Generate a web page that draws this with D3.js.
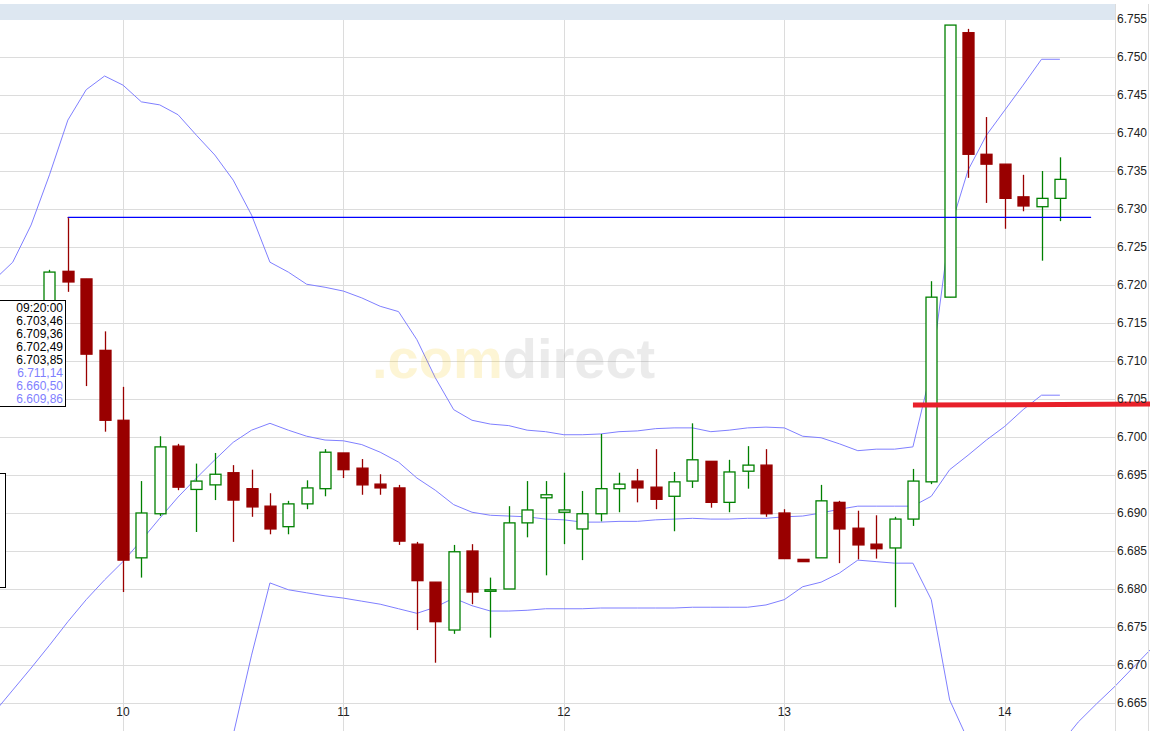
<!DOCTYPE html>
<html><head><meta charset="utf-8">
<script src="https://cdn.jsdelivr.net/npm/d3@7"></script>
<style>body{margin:0;background:#fff}svg{display:block}</style>
</head><body><svg id="c" width="1150" height="731"></svg>
<script>
// candles: index, open, high, low, close
const candleIdx = d3.range(-4, 52);
const opens  = [6.7178,6.7218,6.7208,6.7114,6.7022,6.6841,6.6899,6.6988,6.6931,6.6937,6.6953,6.6932,6.6909,6.6882,6.6912,6.6932,6.6979,6.6959,6.6938,6.6933,6.6859,6.6809,6.6746,6.6850,6.6797,6.6800,6.6887,6.6920,6.6901,6.6879,6.6899,6.6932,6.6942,6.6934,6.6922,6.6942,6.6968,6.6914,6.6955,6.6963,6.6900,6.6839,6.6841,6.6914,6.6880,6.6859,6.6854,6.6892,6.6941,6.7184,6.7532,6.7372,6.7359,6.7316,6.7303,6.7314];
const highs  = [6.7220,6.7288,6.7208,6.7139,6.7066,6.6942,6.7001,6.6991,6.6965,6.6979,6.6963,6.6957,6.6926,6.6916,6.6943,6.6984,6.6979,6.6971,6.6951,6.6937,6.6862,6.6809,6.6858,6.6859,6.6815,6.6909,6.6942,6.6942,6.6953,6.6929,6.7004,6.6953,6.6958,6.6984,6.6954,6.7018,6.6968,6.6970,6.6988,6.6984,6.6905,6.6839,6.6937,6.6916,6.6903,6.6897,6.6895,6.6958,6.7205,6.7542,6.7537,6.7421,6.7359,6.7345,6.7350,6.7368];
const lows   = [6.7175,6.7191,6.7067,6.7007,6.6796,6.6815,6.6896,6.6930,6.6875,6.6917,6.6862,6.6895,6.6872,6.6872,6.6905,6.6922,6.6946,6.6924,6.6924,6.6858,6.6746,6.6703,6.6741,6.6780,6.6736,6.6800,6.6868,6.6818,6.6859,6.6838,6.6889,6.6901,6.6914,6.6905,6.6876,6.6933,6.6907,6.6901,6.6932,6.6895,6.6840,6.6836,6.6841,6.6834,6.6839,6.6840,6.6776,6.6883,6.6938,6.7184,6.7341,6.7308,6.7274,6.7297,6.7232,6.7284];
const closes = [6.7217,6.7204,6.7109,6.7022,6.6838,6.6900,6.6987,6.6934,6.6942,6.6951,6.6917,6.6908,6.6879,6.6912,6.6933,6.6980,6.6957,6.6937,6.6933,6.6863,6.6811,6.6757,6.6849,6.6796,6.6799,6.6887,6.6904,6.6924,6.6904,6.6899,6.6932,6.6938,6.6933,6.6918,6.6941,6.6970,6.6914,6.6954,6.6963,6.6899,6.6840,6.6836,6.6916,6.6879,6.6858,6.6853,6.6892,6.6942,6.7184,6.7542,6.7372,6.7359,6.7314,6.7304,6.7314,6.7339];
// Bollinger bands
const upperIdx = d3.range(-7, 52);
const upperBand = [6.7207,6.7230,6.7279,6.7345,6.7417,6.7457,6.7475,6.7463,6.7441,6.7437,6.7424,6.7397,6.7371,6.7338,6.7292,6.7230,
 6.7217,6.7201,6.7197,6.7192,6.7183,6.7172,6.7165,6.7128,6.7078,6.7036,6.7022,6.7017,6.7015,6.7009,6.7007,6.7003,6.7003,6.7004,6.7007,6.7008,6.7011,6.7012,6.7012,6.7007,6.7009,6.7012,6.7013,6.7012,6.7001,6.6999,6.6991,6.6982,6.6984,6.6984,6.6987,
 6.7088,6.7272,6.7351,6.7397,6.7430,6.7463,6.7497,6.7497];
const middleIdx = d3.range(-7, 52);
const middleBand = [6.6638,6.6667,6.6696,6.6726,6.6757,6.6786,6.6812,6.6836,6.6864,6.6893,6.6921,6.6946,6.6970,6.6993,6.7009,6.7018,
 6.7009,6.7001,6.6996,6.6995,6.6990,6.6980,6.6967,6.6946,6.6930,6.6911,6.6901,6.6897,6.6896,6.6895,6.6892,6.6891,6.6888,6.6888,6.6889,6.6889,6.6891,6.6892,6.6893,6.6892,6.6892,6.6893,6.6893,6.6895,6.6896,6.6900,6.6905,6.6909,6.6909,6.6909,6.6909,
 6.6922,6.6957,6.6976,6.6996,6.7014,6.7036,6.7055,6.7055];
const lowerIdx = d3.range(5, 57);
const lowerBand = [6.6522,6.6608,6.6713,6.6808,6.6799,6.6795,6.6791,6.6788,6.6784,6.6780,6.6774,6.6768,6.6776,6.6788,6.6778,6.6771,6.6771,6.6772,
 6.6774,6.6774,6.6774,6.6775,6.6775,6.6775,6.6775,6.6775,6.6776,6.6776,6.6776,6.6776,6.6779,6.6786,6.6803,6.6809,6.6821,6.6838,6.6836,6.6834,6.6834,
 6.6786,6.6654,6.6601,6.6575,6.6562,6.6562,6.6568,6.6595,6.6625,6.6649,6.6672,6.6697,6.6722];
const hLineValue = 6.7289, hLineFrom = -3, hLineTo = 52.7;
const redLineValue = 6.7042, redFrom = 43, redTo = 56;
const yTicks = [6.665,6.670,6.675,6.680,6.685,6.690,6.695,6.700,6.705,6.710,6.715,6.720,6.725,6.730,6.735,6.740,6.745,6.750,6.755];
const dayTicks = [0,12,24,36,48], dayLabels = ["10","11","12","13","14"];
const tipLines = ["09:20:00","6.703,46","6.709,36","6.702,49","6.703,85","6.711,14","6.660,50","6.609,86"];

const svg = d3.select("#c");
const W = 1115;
const x = d3.scaleLinear().domain([-6.694, 54.0]).range([0, W]);
const y = d3.scaleLinear().domain([6.665, 6.755]).range([703, 19]);
const fmt = d3.format(".3f");

svg.append("rect").attr("x",0).attr("y",4).attr("width",W).attr("height",16).attr("fill","#dde7f1");
svg.append("clipPath").attr("id","cp").append("rect").attr("x",0).attr("y",20).attr("width",1150).attr("height",711);
const g = svg.append("g").attr("clip-path","url(#cp)");

g.selectAll(".hg").data(yTicks).join("line").attr("x1",0).attr("x2",W)
 .attr("y1",d=>Math.round(y(d))+0.5).attr("y2",d=>Math.round(y(d))+0.5).attr("stroke","#dcdcdc");
g.selectAll(".vg").data(dayTicks).join("line").attr("y1",20).attr("y2",731)
 .attr("x1",d=>Math.round(x(d))+0.5).attr("x2",d=>Math.round(x(d))+0.5).attr("stroke","#dcdcdc");
svg.append("line").attr("x1",W+0.5).attr("x2",W+0.5).attr("y1",4).attr("y2",731).attr("stroke","#dcdcdc");
svg.append("line").attr("x1",1148.5).attr("x2",1148.5).attr("y1",4).attr("y2",731).attr("stroke","#dcdcdc");

// watermark
const wm = svg.append("text").attr("x",372).attr("y",378).attr("font-family","Liberation Sans, Arial").attr("font-weight","bold").attr("font-size",56).attr("opacity",0.16);
wm.append("tspan").attr("fill","#f5c400").text(".com");
wm.append("tspan").attr("fill","#888").text("direct");

// bands
const line = d3.line().x(d=>x(d[0])).y(d=>y(d[1]));
[[upperIdx,upperBand],[middleIdx,middleBand],[lowerIdx,lowerBand]].forEach(([ix,vals])=>{
  g.append("path").attr("d",line(ix.map((d,k)=>[d,vals[k]]))).attr("fill","none").attr("stroke","#7f7fff").attr("stroke-width",1);
});

// candles
const data = candleIdx.map((d,k)=>({i:d,o:opens[k],h:highs[k],l:lows[k],c:closes[k]}));
const bw = 11;
const cg = g.selectAll(".cd").data(data).join("g");
cg.append("line").attr("x1",d=>Math.round(x(d.i))+0.5).attr("x2",d=>Math.round(x(d.i))+0.5)
 .attr("y1",d=>y(d.h)).attr("y2",d=>y(d.l)).attr("stroke",d=>d.c>=d.o?"#008000":"#990000").attr("stroke-width",1.3);
cg.append("rect").attr("x",d=>Math.round(x(d.i))-bw/2+0.5).attr("width",bw)
 .attr("y",d=>y(Math.max(d.o,d.c))).attr("height",d=>Math.max(1.5,Math.abs(y(d.o)-y(d.c))))
 .attr("fill",d=>d.c>=d.o?"#fff":"#990000").attr("stroke",d=>d.c>=d.o?"#008000":"#990000").attr("stroke-width",1.3);

// horizontal lines
g.append("line").attr("x1",x(hLineFrom)).attr("x2",x(hLineTo)).attr("y1",y(hLineValue)).attr("y2",y(hLineValue)).attr("stroke","#0000ff").attr("stroke-width",1.2);
g.append("line").attr("x1",x(hLineFrom)).attr("x2",x(hLineFrom)).attr("y1",y(hLineValue)).attr("y2",y(highs[1])).attr("stroke","#990000");
svg.append("line").attr("x1",x(redFrom)).attr("x2",x(redTo)).attr("y1",y(redLineValue)).attr("y2",y(redLineValue)-1).attr("stroke","#e8202a").attr("stroke-width",5);

// axes labels
svg.selectAll(".yl").data(yTicks).join("text").attr("x",1117).attr("y",d=>y(d)+4).attr("font-family","Liberation Sans, Arial").attr("font-size",12).attr("fill","#222").text(d=>fmt(d));
svg.selectAll(".xl").data(dayTicks).join("text").attr("x",d=>x(d)).attr("y",716).attr("text-anchor","middle").attr("font-family","Liberation Sans, Arial").attr("font-size",12).attr("fill","#222").text((d,k)=>dayLabels[k]);

// tooltip boxes
svg.append("rect").attr("x",-2).attr("y",300.5).attr("width",67.5).attr("height",106).attr("fill","#fff").attr("stroke","#000");
svg.selectAll(".tt").data(tipLines).join("text").attr("x",63).attr("y",(d,k)=>312+k*13).attr("text-anchor","end")
 .attr("font-family","Liberation Sans, Arial").attr("font-size",12).attr("fill",(d,k)=>k>=5?"#7f7fff":"#000").text(d=>d);
svg.append("rect").attr("x",-2).attr("y",473.5).attr("width",7.5).attr("height",114).attr("fill","#fff").attr("stroke","#000");
</script></body></html>
